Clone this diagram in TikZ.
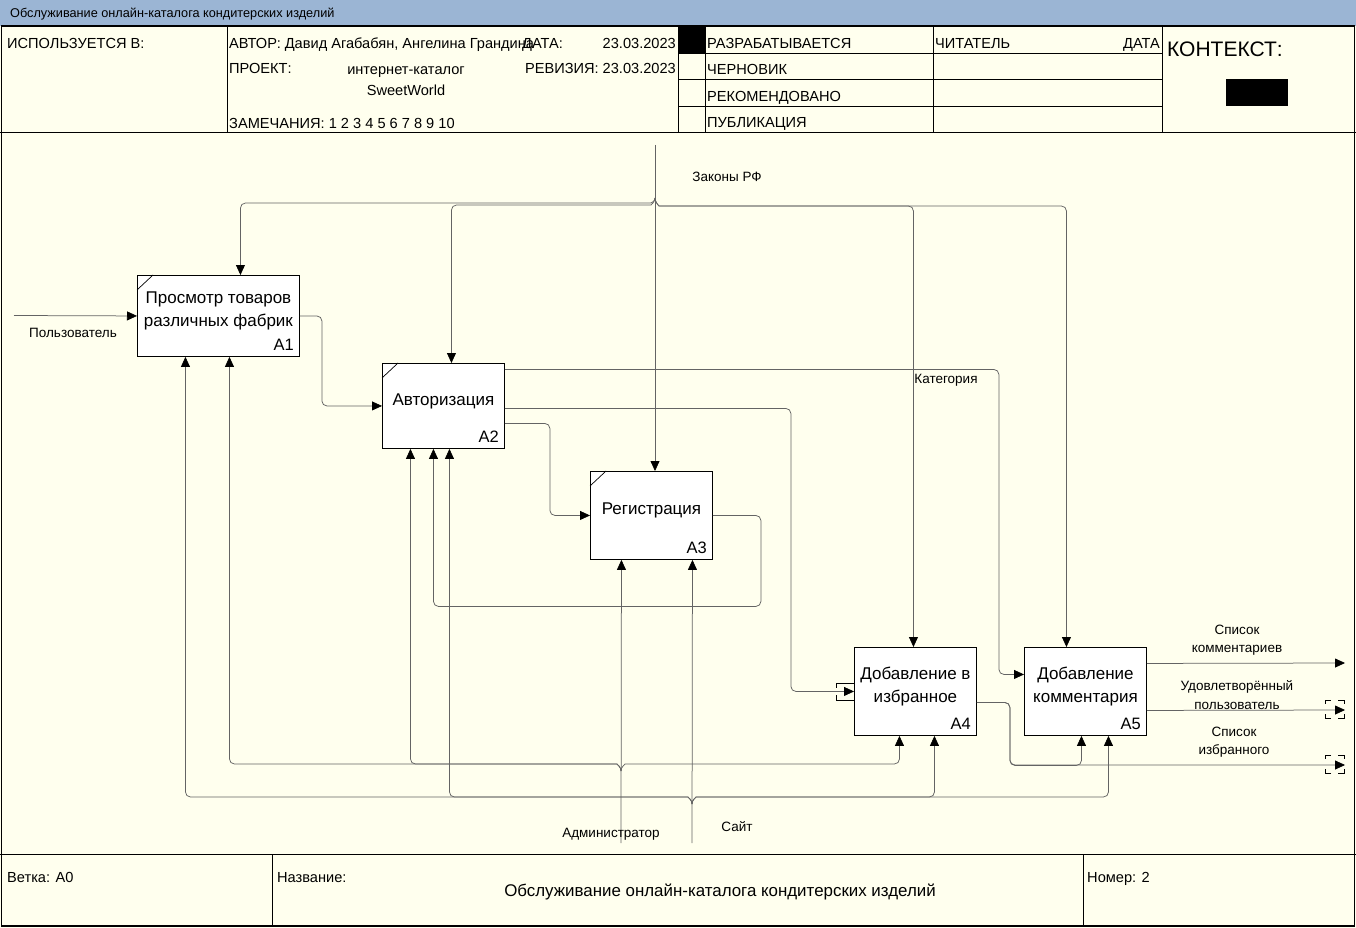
\documentclass[tikz,border=0pt]{standalone}
\usepackage{fontspec}
\setmainfont{Liberation Sans}
\usetikzlibrary{arrows.meta}

\definecolor{paper}{RGB}{255,255,238}
\definecolor{titlebar}{RGB}{155,181,212}
\definecolor{wire}{RGB}{100,100,100}

\begin{document}
\begin{tikzpicture}[
    x=1pt, y=-1pt,
    func/.style     = {draw=black, fill=white, line width=0.9pt, anchor=north west,
                       inner sep=0pt, minimum width=122pt, minimum height=88pt},
    functext/.style = {font=\fontsize{17}{23}\selectfont, align=center, inner sep=0pt},
    funcnum/.style  = {font=\fontsize{16.5}{18}\selectfont, anchor=south east, inner sep=0pt},
    flow/.style     = {draw=wire, line width=0.75pt, rounded corners=5pt},
    arr/.style      = {flow, -{Triangle[length=10pt,width=9pt,color=black]}},
    lbl/.style      = {font=\fontsize{13.5}{18.5}\selectfont, align=center, inner sep=0pt},
    hdr/.style      = {font=\fontsize{14.6}{16}\selectfont, anchor=base west, inner sep=0pt},
    grid/.style     = {draw=black, line width=0.8pt},
    tunnel/.style   = {draw=black, line width=0.6pt}
  ]
    \useasboundingbox (0,0) rectangle (1356,928);

    %% ---- sheet and title bar ----
    \fill[paper] (0,0) rectangle (1356,928);
    \fill[titlebar] (0,0) rectangle (1356,26);
    \node[font=\fontsize{12.7}{14}\selectfont, anchor=base west, inner sep=0pt] (ttl) at (10,18)
      {Обслуживание онлайн-каталога кондитерских изделий};
    \draw[black, line width=1.5pt] (1.5,26) rectangle (1354.5,926);
    \draw[grid] (0,132) -- (1356,132);
    \draw[grid] (0,854) -- (1356,854);

    %% ---- header ----
    \foreach \x in {227,678,705,933,1162}
      \draw[grid] (\x,26) -- (\x,132);
    \foreach \y in {53,79,106}
      \draw[grid] (678,\y) -- (1162,\y);
    \fill[black] (679,27) rectangle (705,53);
    \fill[black] (1226,79) rectangle (1288,106);

    \node[hdr] (usedin) at (7,49)   {ИСПОЛЬЗУЕТСЯ В:};
    \node[hdr] (author) at (229,49) {АВТОР: Давид Агабабян, Ангелина Грандина};
    \node[hdr] (datek)  at (522,49) {ДАТА:};
    \node[hdr, anchor=base east] (datev) at (676,49) {23.03.2023};
    \node[hdr] (proj)   at (229,74) {ПРОЕКТ:};
    \node[hdr, anchor=base] (projv1) at (406,75) {интернет-каталог};
    \node[hdr, anchor=base] (projv2) at (406,96) {SweetWorld};
    \node[hdr, anchor=base east] (rev) at (676,74) {РЕВИЗИЯ: 23.03.2023};
    \node[hdr] (notes)  at (229,129) {ЗАМЕЧАНИЯ: 1 2 3 4 5 6 7 8 9 10};

    \node[hdr] (st1) at (707,49)  {РАЗРАБАТЫВАЕТСЯ};
    \node[hdr] (st2) at (707,75)  {ЧЕРНОВИК};
    \node[hdr] (st3) at (707,102) {РЕКОМЕНДОВАНО};
    \node[hdr] (st4) at (707,128) {ПУБЛИКАЦИЯ};
    \node[hdr] (reader) at (935,49) {ЧИТАТЕЛЬ};
    \node[hdr, anchor=base east] (rdate) at (1160,49) {ДАТА};
    \node[hdr, font=\fontsize{21}{22}\selectfont] (ctx) at (1167,57) {КОНТЕКСТ:};

    %% ---- footer ----
    \foreach \x in {272,1083}
      \draw[grid] (\x,854) -- (\x,926);
    \node[hdr] (branch) at (7,882)    {Ветка: A0};
    \node[hdr] (namek)  at (277,882)  {Название:};
    \node[hdr, anchor=base, font=\fontsize{16.9}{18}\selectfont] (namev) at (720,896)
      {Обслуживание онлайн-каталога кондитерских изделий};
    \node[hdr] (num)    at (1087,882) {Номер: 2};

    %% ---- functions ----
    \node[func, minimum width=162pt, minimum height=81pt] (A1) at (137,275) {};
    \node[func, minimum height=85pt] (A2) at (382,363) {};
    \node[func] (A3) at (590,471) {};
    \node[func] (A4) at (854,647) {};
    \node[func] (A5) at (1024,647) {};

    \node[functext] (A1t) at ([yshift=5pt]A1.center) {Просмотр товаров\\различных фабрик};
    \node[functext] (A2t) at ([yshift=5pt]A2.center) {Авторизация};
    \node[functext] (A3t) at ([yshift=5pt]A3.center) {Регистрация};
    \node[functext] (A4t) at ([yshift=5pt]A4.center) {Добавление в\\избранное};
    \node[functext] (A5t) at ([yshift=5pt]A5.center) {Добавление\\комментария};

    \foreach \b in {A1,A2,A3,A4,A5}
      \node[funcnum] (\b n) at ([shift={(-6,-6)}]\b.south east) {\b};
    \foreach \b in {A1,A2,A3}
      \draw[black, line width=0.7pt] ([yshift=-15pt]\b.north west) -- ([xshift=16pt]\b.north west);

    %% ---- sources and sinks ----
    \coordinate (usr)     at (14,315.5);
    \coordinate (lawtop)  at (655,145);
    \coordinate (lawj)    at (655,198);
    \coordinate (admsrc)  at (621,843);
    \coordinate (admj)    at (621,771);
    \coordinate (sitesrc) at (692,843);
    \coordinate (sitej)   at (692,804);
    \coordinate (out1)    at (1345,663);
    \coordinate (out2)    at (1345,710);
    \coordinate (out3)    at (1345,765);

    %% ---- inputs and outputs ----
    \draw[arr] (usr) -- (A1.west);
    \draw[arr] (A1.east) -- ++(22,0) |- (A2.west);
    \draw[arr] ([yshift=-17.5pt]A2.east) -- ++(45,0) |- (A3.west);
    \draw[arr] ([yshift=-2.5pt]A2.east) -- ++(286,0) |- (A4.west);
    \draw[arr] ([yshift=36.5pt]A2.east) -- ++(494,0) |- ([yshift=17pt]A5.west);
    \draw[arr] (A3.east) -- ++(48,0) -- ++(0,91) -| ([xshift=-10pt]A2.south);
    \draw[arr] ([yshift=-11pt]A4.east) -- ++(33,0) |- (out3);
    \draw[arr] ([yshift=-11pt]A4.east) -- ++(33,0) -- ++(0,63) -| ([xshift=-4pt]A5.south);
    \draw[arr] ([yshift=28pt]A5.east) -- (out1);
    \draw[arr] ([yshift=-19pt]A5.east) -- (out2);

    %% ---- controls: Законы РФ ----
    \draw[arr] (lawtop) -- (lawtop |- A3.north);
    \draw[arr] (lawj) to[out=-90,in=0] ++(-9,5) -| ([xshift=22pt]A1.north);
    \draw[arr] (lawj) to[out=-90,in=0] ++(-9,7) -| ([xshift=8pt]A2.north);
    \draw[arr] (lawj) to[out=-90,in=180] ++(9,8) -| ([xshift=-2pt]A4.north);
    \draw[arr] (lawj) to[out=-90,in=180] ++(9,8) -| ([xshift=-19pt]A5.north);

    %% ---- mechanisms: Администратор, Сайт ----
    \draw[arr] (admsrc) -- ([xshift=-30pt]A3.south);
    \draw[arr] (admj) to[out=90,in=0] ++(-9,-7) -| ([xshift=11pt]A1.south);
    \draw[arr] (admj) to[out=90,in=0] ++(-9,-7) -| ([xshift=-33pt]A2.south);
    \draw[arr] (admj) to[out=90,in=180] ++(9,-7) -| ([xshift=-16pt]A4.south);

    \draw[arr] (sitesrc) -- ([xshift=41pt]A3.south);
    \draw[arr] (sitej) to[out=90,in=0] ++(-9,-7) -| ([xshift=-33pt]A1.south);
    \draw[arr] (sitej) to[out=90,in=0] ++(-9,-7) -| ([xshift=6pt]A2.south);
    \draw[arr] (sitej) to[out=90,in=180] ++(9,-7) -| ([xshift=19pt]A4.south);
    \draw[arr] (sitej) to[out=90,in=180] ++(9,-7) -| ([xshift=23pt]A5.south);

    %% ---- tunnels ----
    \draw[tunnel] ([shift={(0,-8)}]A4.west) -- ++(-18,0) -- ++(0,5);
    \draw[tunnel] ([shift={(0,9)}]A4.west) -- ++(-18,0) -- ++(0,-5);
    \foreach \o in {out2,out3} {
      \draw[tunnel] ([shift={(-14,-10)}]\o) -| ++(-6,4);
      \draw[tunnel] ([shift={(-14,8)}]\o) -| ++(-6,-4);
      \draw[tunnel] ([shift={(-7,-10)}]\o) -| ++(6,4);
      \draw[tunnel] ([shift={(-7,8)}]\o) -| ++(6,-4);
    }

    %% ---- arrow labels ----
    \node[lbl] (usrl)  at (73,333)   {Пользователь};
    \node[lbl] (lawl)  at (727,177)  {Законы РФ};
    \node[lbl] (catl)  at (946,380)  {Категория};
    \node[lbl] (adml)  at (611,834)  {Администратор};
    \node[lbl] (sitel) at (737,827)  {Сайт};
    \node[lbl] (out1l) at (1237,640) {Список\\комментариев};
    \node[lbl] (out2l) at (1237,695) {Удовлетворённый\\пользователь};
    \node[lbl] (out3l) at (1234,742) {Список\\избранного};
  \end{tikzpicture}
\end{document}
